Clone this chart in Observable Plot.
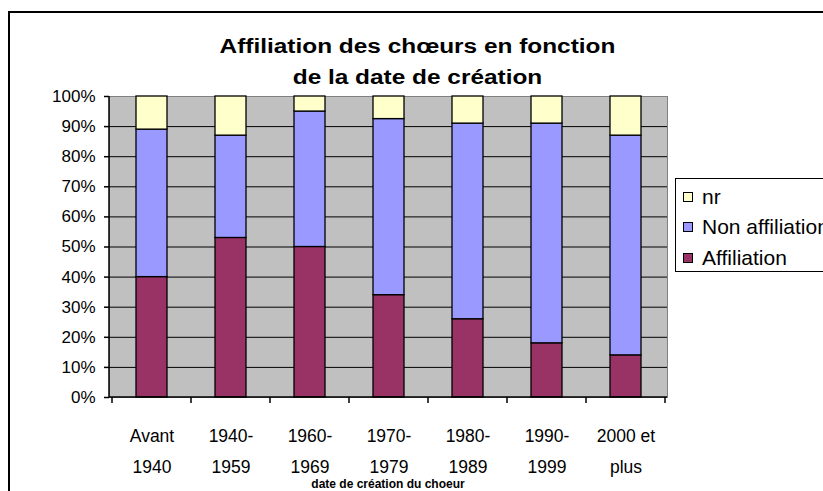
<!DOCTYPE html>
<html>
<head>
<meta charset="utf-8">
<script src="https://cdn.jsdelivr.net/npm/d3@7"></script>
<script src="https://cdn.jsdelivr.net/npm/@observablehq/plot@0.6"></script>
<style>
html, body { margin: 0; padding: 0; background: #fff; }
body { width: 823px; height: 491px; overflow: hidden; position: relative; font-family: "Liberation Sans", Arial, sans-serif; color: #000; }
#border { position: absolute; left: 8px; top: 11px; width: 1000px; height: 1000px; border-left: 2px solid #000; border-top: 2px solid #000; }
#title { position: absolute; left: 0; top: 31px; width: 835px; text-align: center; font-weight: bold; font-size: 20px; line-height: 30.6px; transform: scaleX(1.22); transform-origin: 417.5px 0; }
#chart { position: absolute; left: 0; top: 0; }
#xtitle { position: absolute; left: 109px; width: 558px; top: 477px; text-align: center; font-weight: bold; font-size: 12px; }
#legend { position: absolute; left: 675px; top: 178px; width: 200px; height: 92px; border: 1px solid #000; background: #fff; }
.item { position: absolute; left: 7px; height: 30px; display: flex; align-items: center; font-size: 21px; white-space: nowrap; }
.sw { width: 8px; height: 8px; border: 1px solid #000; margin-right: 9px; flex: none; }
</style>
</head>
<body>
<div id="border"></div>
<div id="chart"></div>
<div id="title">Affiliation des chœurs en fonction<br>de la date de création</div>
<div id="xtitle">date de création du choeur</div>
<div id="legend"></div>
<script>
// ---- Data ----
const categories = ["Avant 1940", "1940-1959", "1960-1969", "1970-1979", "1980-1989", "1990-1999", "2000 et plus"];
const categoryLabels = ["Avant\n1940", "1940-\n1959", "1960-\n1969", "1970-\n1979", "1980-\n1989", "1990-\n1999", "2000 et\nplus"];
const series = ["Affiliation", "Non affiliation", "nr"];
const affiliation    = [40, 53, 50, 34, 26, 18, 14];
const nonAffiliation = [49, 34, 45, 58.5, 65, 73, 73];
const nr             = [11, 13, 5, 7.5, 9, 9, 13];
const seriesColors = ["#993366", "#9999FF", "#FFFFCC"];
const yTicks = [0, 10, 20, 30, 40, 50, 60, 70, 80, 90, 100];
const legendOrder = ["nr", "Non affiliation", "Affiliation"];

// ---- Table ----
const valuesBySeries = { "Affiliation": affiliation, "Non affiliation": nonAffiliation, "nr": nr };
const rows = [];
series.forEach(s => categories.forEach((c, i) => rows.push({ category: c, series: s, value: valuesBySeries[s][i] })));
const labelOf = new Map(categories.map((c, i) => [c, categoryLabels[i]]));

// custom mark: black left & bottom axis lines and x ticks at category boundaries
function axisLines(...args) {
  const scales = args.find(a => a && !Array.isArray(a) && typeof a.x === "function");
  const dims = args.find(a => a && a.marginLeft !== undefined && a.width !== undefined);
  const x = scales.x;
  const x0 = dims.marginLeft, x1 = dims.width - dims.marginRight;
  const yb = dims.height - dims.marginBottom, yt = dims.marginTop;
  const step = x.step ? x.step() : (x1 - x0) / categories.length;
  const bw = x.bandwidth ? x.bandwidth() : step * 0.39;
  const gap = (step - bw) / 2;
  const bounds = categories.map(c => x(c) - gap);
  bounds.push(x(categories[categories.length - 1]) + bw + gap);
  const g = d3.create("svg:g").attr("stroke", "#000").attr("fill", "none").attr("stroke-width", 1.5);
  g.append("line").attr("x1", x0).attr("x2", x0).attr("y1", yt).attr("y2", yb);
  g.append("line").attr("x1", x0).attr("x2", x1).attr("y1", yb).attr("y2", yb);
  bounds.forEach(b => g.append("line").attr("x1", b).attr("x2", b).attr("y1", yb).attr("y2", yb + 6));
  return g.node();
}

const chart = Plot.plot({
  width: 823,
  height: 491,
  marginLeft: 109,
  marginRight: 156,
  marginTop: 96,
  marginBottom: 94,
  style: { fontFamily: "'Liberation Sans', Arial, sans-serif", fontSize: "17px", color: "#000", background: "transparent", overflow: "visible" },
  x: { domain: categories, paddingInner: 0.61, paddingOuter: 0.305, label: null },
  y: { domain: [0, 100], label: null },
  color: { domain: series, range: seriesColors },
  marks: [
    Plot.frame({ fill: "#C0C0C0", stroke: "#808080" }),
    Plot.gridY(yTicks.slice(1, -1), { stroke: "#000", strokeOpacity: 1, strokeWidth: 1 }),
    Plot.barY(rows, { x: "category", y: "value", z: "series", fill: "series", order: series, stroke: "#000", strokeWidth: 1.3, inset: 0 }),
    axisLines,
    Plot.axisY({ ticks: yTicks, tickSize: 5, tickPadding: 9, tickFormat: d => d + "%", fontSize: 17, stroke: "#000", strokeWidth: 1.5 }),
    Plot.axisX({ tickSize: 0, tickPadding: 23, tickFormat: d => labelOf.get(d), fontSize: 17.5, lineHeight: 1.75 })
  ]
});
document.getElementById("chart").appendChild(chart);

// legend
const legend = document.getElementById("legend");
legendOrder.forEach((s, i) => {
  const item = document.createElement("div");
  item.className = "item";
  item.style.top = (2.7 + i * 30.4) + "px";
  const sw = document.createElement("span");
  sw.className = "sw";
  sw.style.background = seriesColors[series.indexOf(s)];
  const t = document.createElement("span");
  t.textContent = s;
  item.appendChild(sw);
  item.appendChild(t);
  legend.appendChild(item);
});
</script>
</body>
</html>
